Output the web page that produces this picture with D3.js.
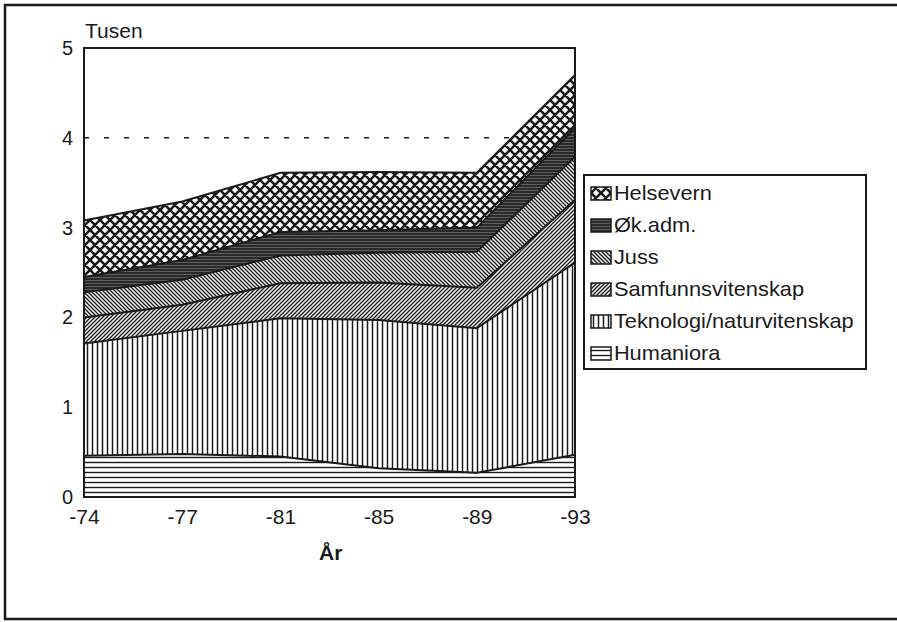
<!DOCTYPE html>
<html>
<head>
    <meta charset="utf-8">
    <title>Tusen - stacked</title>
    <script src="https://d3js.org/d3.v7.min.js"></script>
    <style>
        body { margin: 0; padding: 0; background: #fff; overflow: hidden; }
        text { font-family: "Liberation Sans", Arial, sans-serif; fill: #1a1a1a; }
    </style>
</head>
<body>
    <script>
        // data (thousands)
        var years = ["-74", "-77", "-81", "-85", "-89", "-93"];
        var humaniora = [0.46, 0.48, 0.45, 0.32, 0.27, 0.47];
        var teknologi = [1.25, 1.37, 1.54, 1.65, 1.61, 2.14];
        var samfunn = [0.29, 0.29, 0.39, 0.42, 0.45, 0.70];
        var juss = [0.28, 0.28, 0.31, 0.33, 0.40, 0.48];
        var okadm = [0.17, 0.22, 0.26, 0.25, 0.27, 0.32];
        var helse = [0.63, 0.65, 0.66, 0.65, 0.61, 0.59];
        var yTicks = [0, 1, 2, 3, 4, 5];

        // bottom to top
        var series = [
            { key: "hum", name: "Humaniora", values: humaniora },
            { key: "tek", name: "Teknologi/naturvitenskap", values: teknologi },
            { key: "samf", name: "Samfunnsvitenskap", values: samfunn },
            { key: "juss", name: "Juss", values: juss },
            { key: "ok", name: "Øk.adm.", values: okadm },
            { key: "helse", name: "Helsevern", values: helse }
        ];

        var width = 897, height = 622;
        var ink = "#1a1a1a";

        var rows = years.map(function (y, i) {
            var r = { year: y };
            series.forEach(function (s) { r[s.key] = s.values[i]; });
            return r;
        });

        var svg = d3.select("body").append("svg")
            .attr("width", width)
            .attr("height", height);

        var defs = svg.append("defs");

        function pattern(id, w, h) {
            var p = defs.append("pattern")
                .attr("id", id)
                .attr("patternUnits", "userSpaceOnUse")
                .attr("width", w)
                .attr("height", h);
            return p;
        }

        var p = pattern("p-hum", 5, 5);
        p.append("rect").attr("width", 5).attr("height", 5).attr("fill", "#fff");
        p.append("line").attr("x1", 0).attr("x2", 5).attr("y1", 2.5).attr("y2", 2.5)
            .attr("stroke", ink).attr("stroke-width", 1.4);

        p = pattern("p-tek", 5, 5);
        p.append("rect").attr("width", 5).attr("height", 5).attr("fill", "#fff");
        p.append("line").attr("y1", 0).attr("y2", 5).attr("x1", 2.5).attr("x2", 2.5)
            .attr("stroke", ink).attr("stroke-width", 1.5);

        p = pattern("p-samf", 4, 4);
        p.append("rect").attr("width", 4).attr("height", 4).attr("fill", "#f2f2f2");
        p.append("path").attr("d", "M-1,1 l2,-2 M0,4 l4,-4 M3,5 l2,-2")
            .attr("stroke", ink).attr("stroke-width", 1.3);

        p = pattern("p-juss", 4, 4);
        p.append("rect").attr("width", 4).attr("height", 4).attr("fill", "#f2f2f2");
        p.append("path").attr("d", "M-1,3 l2,2 M0,0 l4,4 M3,-1 l2,2")
            .attr("stroke", ink).attr("stroke-width", 1.3);

        p = pattern("p-ok", 3, 3);
        p.append("rect").attr("width", 3).attr("height", 3).attr("fill", "#2a2a2a");
        p.append("line").attr("x1", 0).attr("x2", 3).attr("y1", 1.5).attr("y2", 1.5)
            .attr("stroke", "#6a6a6a").attr("stroke-width", 0.8);

        p = pattern("p-helse", 10, 10);
        p.append("rect").attr("width", 10).attr("height", 10).attr("fill", "#fff");
        p.append("path").attr("d", "M0,0 L10,10 M10,0 L0,10 M-1,1 l2,-2 M9,11 l2,-2 M-1,9 l2,2 M9,-1 l2,2")
            .attr("stroke", ink).attr("stroke-width", 2.6);

        // outer frame (right side runs off the page)
        svg.append("rect")
            .attr("x", 5).attr("y", 5)
            .attr("width", 920).attr("height", 614)
            .attr("fill", "none").attr("stroke", ink).attr("stroke-width", 2.5);

        var x = d3.scalePoint().domain(years).range([84, 575]);
        var y = d3.scaleLinear().domain([0, 5]).range([497, 48]);

        var stack = d3.stack().keys(series.map(function (s) { return s.key; }));
        var layers = stack(rows);

        // dashed reference line at 4
        svg.append("line")
            .attr("x1", x.range()[0]).attr("x2", x.range()[1])
            .attr("y1", y(4)).attr("y2", y(4))
            .attr("stroke", ink).attr("stroke-width", 1.6)
            .attr("stroke-dasharray", "5,15");

        var area = d3.area()
            .x(function (d) { return x(d.data.year); })
            .y0(function (d) { return y(d[0]); })
            .y1(function (d) { return y(d[1]); });

        var topLine = d3.line()
            .x(function (d) { return x(d.data.year); })
            .y(function (d) { return y(d[1]); });

        svg.selectAll("path.layer")
            .data(layers)
            .join("path")
            .attr("class", "layer")
            .attr("d", area)
            .attr("fill", function (d) { return "url(#p-" + d.key + ")"; });

        svg.selectAll("path.edge")
            .data(layers)
            .join("path")
            .attr("class", "edge")
            .attr("d", topLine)
            .attr("fill", "none")
            .attr("stroke", ink)
            .attr("stroke-width", 2);

        // plot frame
        svg.append("rect")
            .attr("x", 84).attr("y", 48)
            .attr("width", 575 - 84).attr("height", 497 - 48)
            .attr("fill", "none").attr("stroke", ink).attr("stroke-width", 2);

        var yAxis = svg.append("g")
            .attr("transform", "translate(84,0)")
            .call(d3.axisLeft(y).tickValues(yTicks).tickFormat(d3.format("d")).tickSize(0).tickPadding(11));
        yAxis.select(".domain").remove();
        yAxis.selectAll("text").style("font-size", "20px").attr("fill", ink);

        var xAxis = svg.append("g")
            .attr("transform", "translate(0,497)")
            .call(d3.axisBottom(x).tickSize(0).tickPadding(12));
        xAxis.select(".domain").remove();
        xAxis.selectAll("text").style("font-size", "21px").attr("fill", ink);

        svg.append("text")
            .attr("x", 85 / 1.05).attr("y", 38)
            .style("font-size", "20px")
            .attr("transform", "scale(1.05,1)")
            .text("Tusen");

        svg.append("text")
            .attr("x", 319).attr("y", 560)
            .style("font-size", "21px")
            .style("font-weight", "bold")
            .text("År");

        // legend, top to bottom
        var legend = svg.append("g");
        legend.append("rect")
            .attr("x", 584).attr("y", 175)
            .attr("width", 282).attr("height", 194)
            .attr("fill", "#fff").attr("stroke", ink).attr("stroke-width", 2);

        var items = legend.selectAll("g.item")
            .data(series.slice().reverse())
            .join("g")
            .attr("class", "item")
            .attr("transform", function (d, i) { return "translate(591," + (193 + i * 32) + ")"; });

        items.append("rect")
            .attr("x", 0).attr("y", -6)
            .attr("width", 20).attr("height", 13)
            .attr("fill", function (d) { return "url(#p-" + d.key + ")"; })
            .attr("stroke", ink).attr("stroke-width", 1.5);

        items.append("text")
            .attr("x", 21).attr("y", 7)
            .style("font-size", "20px")
            .attr("transform", "scale(1.09,1)")
            .text(function (d) { return d.name; });
    </script>
</body>
</html>
